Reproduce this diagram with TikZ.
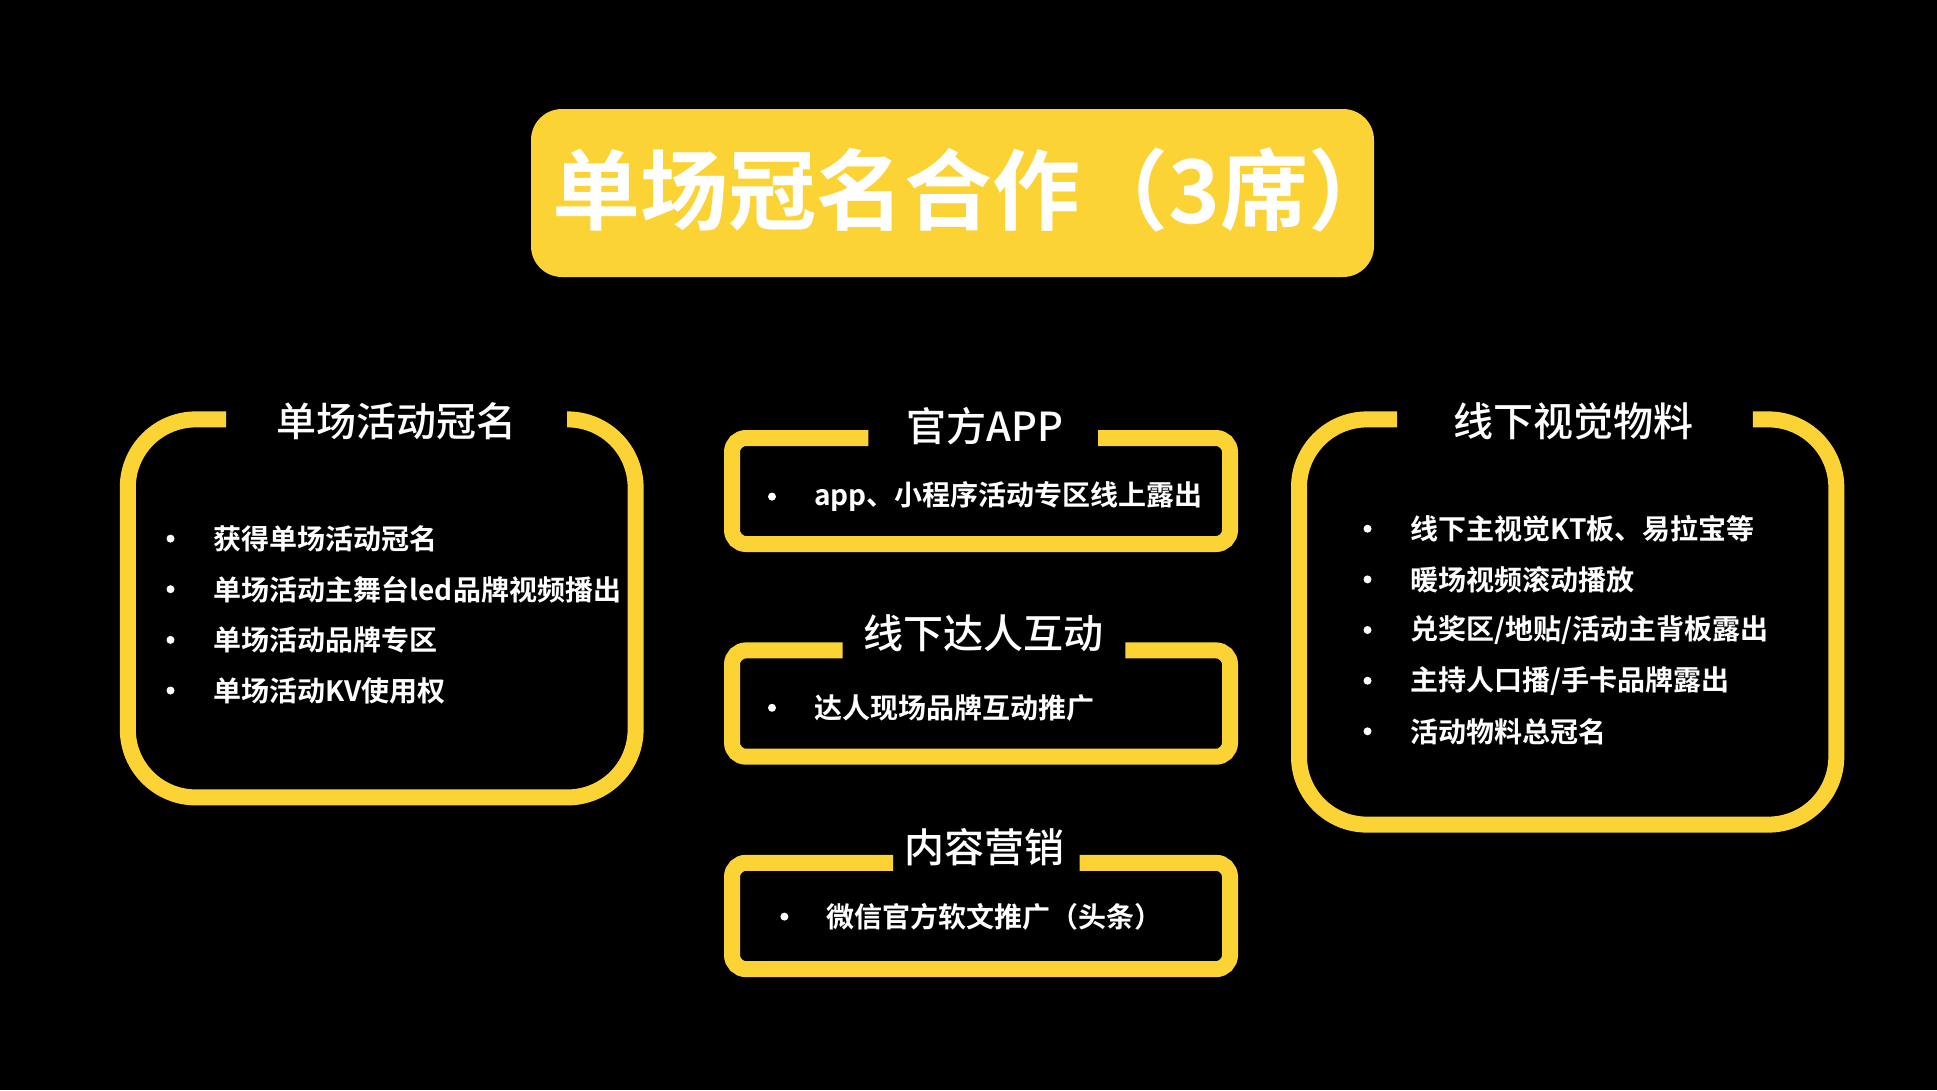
\documentclass[tikz,border=0pt]{standalone}
\usepackage{fontspec}
\setmainfont{Noto Sans CJK SC}[BoldFont={Noto Sans CJK SC Bold}]
\newfontfamily\cjkmed{Noto Sans CJK SC Medium}
\definecolor{yb}{RGB}{252,211,53}
\tikzset{
  frame/.style={draw=yb, line width=16pt},
  ttl/.style={text=white, font=\bfseries\fontsize{88}{88}\selectfont, inner sep=0pt},
  hd/.style={text=white, font=\cjkmed\fontsize{40}{40}\selectfont, inner sep=0pt},
  itm/.style={text=white, font=\bfseries\fontsize{28}{28}\selectfont, anchor=west, inner sep=0pt},
  bul/.style={circle, fill=white, minimum size=8pt, inner sep=0pt}
}
\begin{document}
\begin{tikzpicture}[x=1pt,y=-1pt]
\fill[black] (0,0) rectangle (1937,1090);
\useasboundingbox (0,0) rectangle (1937,1090);

% title
\fill[yb, rounded corners=31pt] (531,109) rectangle (1374,277);
\node[ttl, anchor=west] (title) at (552,190) {单场冠名合作（3席）};

% left box
\draw[frame, rounded corners=68pt] (567,419.4) -- (635.6,419.4) -- (635.6,797.4) -- (127.8,797.4) -- (127.8,419.4) -- (226,419.4);
\node[hd] (h1) at (396.5,421) {单场活动冠名};
\foreach \y/\t [count=\i] in {538.6/{获得单场活动冠名}, 589.2/{单场活动主舞台led品牌视频播出}, 639.9/{单场活动品牌专区}, 690.5/{单场活动KV使用权}}{
  \node[bul] (b1\i) at (170.5,\y) {};
  \node[itm] (t1\i) at (213.7,\y) {\t};
}

% middle box 1
\draw[frame, rounded corners=14pt] (1098.2,438) -- (1230,438) -- (1230,544) -- (732,544) -- (732,438) -- (868.4,438);
\node[hd] (h2) at (984.6,426.2) {官方APP};
\node[bul] (b21) at (772,496.6) {};
\node[itm] (t21) at (814,496.6) {app、小程序活动专区线上露出};

% middle box 2
\draw[frame, rounded corners=14pt] (1125.4,650.4) -- (1230,650.4) -- (1230,756.7) -- (732,756.7) -- (732,650.4) -- (842.5,650.4);
\node[hd] (h3) at (983.3,633.7) {线下达人互动};
\node[bul] (b31) at (772,707.8) {};
\node[itm] (t31) at (814,707.8) {达人现场品牌互动推广};

% middle box 3
\draw[frame, rounded corners=14pt] (1079.7,862.8) -- (1230,862.8) -- (1230,969.1) -- (732,969.1) -- (732,862.8) -- (893.1,862.8);
\node[hd] (h4) at (984,847.4) {内容营销};
\node[bul] (b41) at (784.4,916.6) {};
\node[itm] (t41) at (826.4,916.6) {微信官方软文推广（头条）};

% right box
\draw[frame, rounded corners=68pt] (1752.9,419.4) -- (1836.3,419.4) -- (1836.3,824.6) -- (1299,824.6) -- (1299,419.4) -- (1397.1,419.4);
\node[hd] (h5) at (1573.8,421.2) {线下视觉物料};
\foreach \y/\t [count=\i] in {528.7/{线下主视觉KT板、易拉宝等}, 579.4/{暖场视频滚动播放}, 630/{兑奖区/地贴/活动主背板露出}, 680.7/{主持人口播/手卡品牌露出}, 731.3/{活动物料总冠名}}{
  \node[bul] (b5\i) at (1367.5,\y) {};
  \node[itm] (t5\i) at (1410.7,\y) {\t};
}
\end{tikzpicture}
\end{document}
